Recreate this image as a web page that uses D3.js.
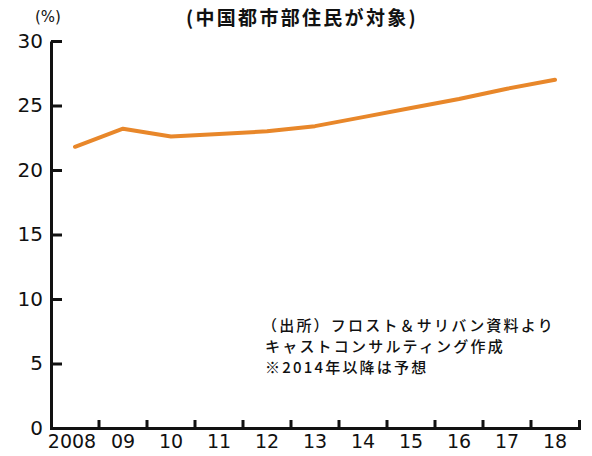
<!DOCTYPE html>
<html>
<head>
<meta charset="utf-8">
<script src="https://cdn.jsdelivr.net/npm/d3@7"></script>
<style>
  html, body { margin: 0; padding: 0; background: #fff; }
  svg { display: block; }
</style>
</head>
<body>
<svg id="chart" width="592" height="456"></svg>
<script>
const categories = ["2008", "09", "10", "11", "12", "13", "14", "15", "16", "17", "18"];
const values = [21.8, 23.2, 22.6, 22.8, 23.0, 23.4, 24.1, 24.8, 25.5, 26.3, 27.0];
const yTicks = [0, 5, 10, 15, 20, 25, 30];
const subtitle = "(中国都市部住民が対象)";
const unitLabel = "(%)";
const notes = ["（出所）フロスト＆サリバン資料より", "キャストコンサルティング作成", "※2014年以降は予想"];

(function () {
const svg = d3.select("#chart");
const mLeft = 51, mRight = 579, mTop = 41, mBottom = 428;
const numFont = "'DejaVu Sans', sans-serif";
const jpFont = "'Noto Sans CJK JP', sans-serif";

const x = d3.scaleBand().domain(categories).range([mLeft, mRight]).padding(0);
const y = d3.scaleLinear().domain([0, 30]).range([mBottom, mTop]);

// Y axis
const yAxis = svg.append("g").attr("transform", `translate(${mLeft},0)`)
  .call(d3.axisLeft(y).tickValues(yTicks).tickSizeInner(-11).tickSizeOuter(0).tickPadding(8));
yAxis.select(".domain").attr("stroke", "#111").attr("stroke-width", 3);
yAxis.selectAll(".tick line").attr("stroke", "#111").attr("stroke-width", 3);
yAxis.selectAll(".tick text").attr("font-family", numFont).attr("font-size", 20).attr("fill", "#111");

// X axis labels
const xAxis = svg.append("g").attr("transform", `translate(0,${mBottom})`)
  .call(d3.axisBottom(x).tickSizeInner(0).tickSizeOuter(-8).tickPadding(7));
xAxis.select(".domain").attr("stroke", "#111").attr("stroke-width", 3);
xAxis.selectAll(".tick line").remove();
xAxis.selectAll(".tick text").attr("font-family", numFont).attr("font-size", 19).attr("fill", "#111");
xAxis.selectAll(".tick text").filter(d => d === categories[0]).attr("dx", -3);
// ticks at band boundaries
xAxis.selectAll("line.bt").data(categories.slice(0, -1)).enter().append("line")
  .attr("class", "bt")
  .attr("x1", d => x(d) + x.bandwidth()).attr("x2", d => x(d) + x.bandwidth())
  .attr("y1", 0).attr("y2", -8)
  .attr("stroke", "#111").attr("stroke-width", 3);

// Line
const line = d3.line().x((d, i) => x(categories[i]) + x.bandwidth() / 2).y(d => y(d));
svg.append("path").datum(values)
  .attr("d", line)
  .attr("fill", "none")
  .attr("stroke", "#E8872A")
  .attr("stroke-width", 4)
  .attr("stroke-linejoin", "round")
  .attr("stroke-linecap", "round");

// Texts
svg.append("text").attr("x", 48).attr("y", 22).attr("text-anchor", "middle")
  .attr("font-family", numFont).attr("font-size", 15).attr("fill", "#111").text(unitLabel);

svg.append("text").attr("x", 302).attr("y", 25).attr("text-anchor", "middle")
  .attr("font-family", jpFont).attr("font-weight", 700).attr("font-size", 19)
  .attr("letter-spacing", 2.3).attr("fill", "#111").text(subtitle);

svg.append("g").selectAll("text").data(notes).enter().append("text")
  .attr("x", (d, i) => i === 0 ? 262 : 265)
  .attr("y", (d, i) => 331 + i * 21)
  .attr("font-family", jpFont).attr("font-weight", 500).attr("font-size", 15)
  .attr("letter-spacing", 2.2).attr("fill", "#111").text(d => d);
})();
</script>
</body>
</html>
